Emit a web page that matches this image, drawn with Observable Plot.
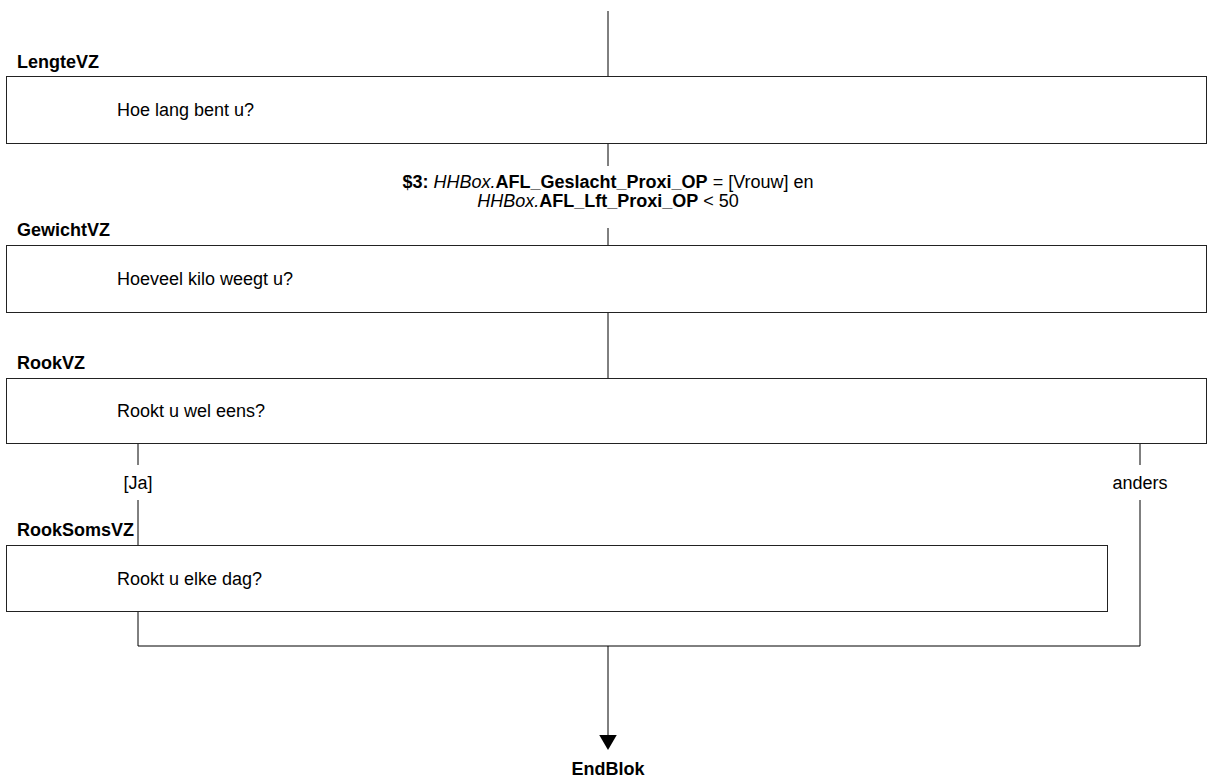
<!DOCTYPE html>
<html>
<head>
<meta charset="utf-8">
<script src="https://cdn.jsdelivr.net/npm/d3@7"></script>
<script src="https://cdn.jsdelivr.net/npm/@observablehq/plot@0.6"></script>
<style>
  html, body { margin: 0; padding: 0; background: #fff; }
  #chart svg { display: block; }
  #chart text { white-space: pre; }
</style>
</head>
<body>
<div id="chart"></div>
<script>
// ---- content ----
const questionNames = ["LengteVZ", "GewichtVZ", "RookVZ", "RookSomsVZ"];
const questionTexts = ["Hoe lang bent u?", "Hoeveel kilo weegt u?", "Rookt u wel eens?", "Rookt u elke dag?"];
const branchLabels = ["[Ja]", "anders"];
const endLabel = ["EndBlok"];
// condition with mixed formatting: [text, style]
const conditionLines = [
  [["$3:", "bold"], [" HHBox.", "italic"], ["AFL_Geslacht_Proxi_OP", "bold"], [" = [Vrouw] en", "normal"]],
  [["HHBox.", "italic"], ["AFL_Lft_Proxi_OP", "bold"], [" < 50", "normal"]]
];

// ---- layout (diagram units) ----
const W = 1207, H = 778;
const mainX = 607, jaX = 137, andersX = 1139;
const boxX1 = [6, 6, 6, 6];
const boxX2 = [1206, 1206, 1206, 1107];
const boxY1 = [76, 245, 378, 545];
const boxY2 = [143, 312, 443, 611];
const labelY = [61, 229, 362, 529];
const conditionY = [181, 200];
const branchY = 482;
const endY = 768;
const segX1 = [mainX, mainX, mainX, mainX, jaX, jaX, andersX, andersX, jaX, jaX, mainX];
const segY1 = [10, 143, 227, 312, 443, 499, 443, 499, 611, 645, 645];
const segX2 = [mainX, mainX, mainX, mainX, jaX, jaX, andersX, andersX, jaX, andersX, mainX];
const segY2 = [76, 165, 245, 378, 464, 545, 464, 645, 645, 645, 734];

const boxes = questionNames.map((name, i) => ({name, text: questionTexts[i], x1: boxX1[i], x2: boxX2[i], y1: boxY1[i], y2: boxY2[i], ly: labelY[i]}));
const segments = segX1.map((x, i) => ({x1: x, y1: segY1[i], x2: segX2[i], y2: segY2[i]}));
const branches = branchLabels.map((t, i) => ({t, x: i === 0 ? jaX : andersX, y: branchY}));

const font = "Liberation Sans, Arial, Helvetica, sans-serif";
const fs = 18;

const chart = Plot.plot({
  width: W,
  height: H,
  margin: 0,
  style: {background: "#fff", fontFamily: font, color: "#000"},
  x: {domain: [0, W], range: [0.5, W + 0.5], axis: null},
  y: {domain: [0, H], range: [0.5, H + 0.5], axis: null},
  marks: [
    Plot.link(segments, {x1: "x1", y1: "y1", x2: "x2", y2: "y2", stroke: "#000", strokeWidth: 1}),
    Plot.rect(boxes, {x1: "x1", x2: "x2", y1: "y1", y2: "y2", fill: "#fff", stroke: "#222", strokeWidth: 1}),
    Plot.text(boxes, {x: () => 16, y: "ly", text: "name", textAnchor: "start", fontWeight: "bold", fontSize: fs, fontFamily: font, fill: "#000"}),
    Plot.text(boxes, {x: () => 116, y: d => (d.y1 + d.y2) / 2, text: "text", textAnchor: "start", fontSize: fs, fontFamily: font, fill: "#000"}),
    Plot.text(branches, {x: "x", y: "y", text: "t", fontSize: fs, fontFamily: font, fill: "#000"}),
    Plot.text(conditionLines, {
      x: () => mainX, y: (d, i) => conditionY[i], text: d => d.map(s => s[0]).join(""),
      fontSize: fs, fontFamily: font, fill: "#000",
      render(index, scales, values, dimensions, context, next) {
        const g = next(index, scales, values, dimensions, context);
        d3.select(g).selectAll("text").each(function(i) {
          const el = d3.select(this);
          el.text(null);
          for (const [t, s] of conditionLines[i]) {
            el.append("tspan")
              .attr("font-weight", s === "bold" ? "bold" : null)
              .attr("font-style", s === "italic" ? "italic" : null)
              .text(t);
          }
        });
        return g;
      }
    }),
    Plot.dot(endLabel, {x: () => mainX, y: () => 739, symbol: "triangle", rotate: 180, r: 6.5, fill: "#000", stroke: "none"}),
    Plot.text(endLabel, {x: () => mainX, y: () => endY, text: d => d, fontWeight: "bold", fontSize: fs, fontFamily: font, fill: "#000"})
  ]
});
document.getElementById("chart").appendChild(chart);
</script>
</body>
</html>
